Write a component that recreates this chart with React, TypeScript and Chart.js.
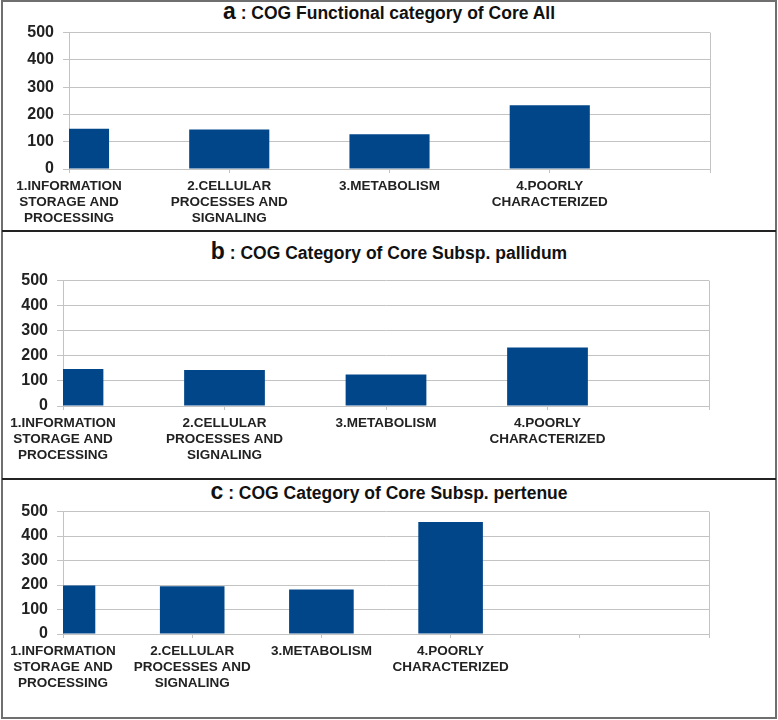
import React, { useEffect, useRef } from "react";
import { Chart, registerables } from "chart.js";

Chart.register(...registerables);

// ---------- data ----------
const categoriesAB: (string | string[])[] = [
  ["1.INFORMATION", "STORAGE AND", "PROCESSING"],
  ["2.CELLULAR", "PROCESSES AND", "SIGNALING"],
  "3.METABOLISM",
  ["4.POORLY", "CHARACTERIZED"],
  "",
];
const categoriesC: (string | string[])[] = [
  ["1.INFORMATION", "STORAGE AND", "PROCESSING"],
  ["2.CELLULAR", "PROCESSES AND", "SIGNALING"],
  "3.METABOLISM",
  ["4.POORLY", "CHARACTERIZED"],
  "",
  "",
];
const coreAll = [148, 145, 127, 234];
const corePallidum = [148, 144, 126, 233];
const corePertenue = [198, 195, 182, 458];
const yMin = 0;
const yMax = 500;
const yStep = 100;

const FONT = "'Liberation Sans', Arial, sans-serif";
const BAR = "#02468a";
const GRID = "#c3c3c3";
const TEXT = "#222222";

type PanelProps = {
  labels: (string | string[])[];
  values: number[];
  top: number; // canvas top
  plotLeft: number;
  plotRight: number;
  plotHeight: number;
};

const PAD_TOP = 10;
const XAXIS_H = 60;
const W = 778;

function BarPanel({ labels, values, top, plotLeft, plotRight, plotHeight }: PanelProps) {
  const ref = useRef<HTMLCanvasElement | null>(null);
  const height = PAD_TOP + plotHeight + XAXIS_H;
  useEffect(() => {
    if (!ref.current) return;
    const last = labels.length - 1;
    const chart = new Chart(ref.current, {
      type: "bar",
      data: {
        labels,
        datasets: [
          {
            data: values,
            backgroundColor: BAR,
            borderWidth: 0,
            categoryPercentage: 1,
            barPercentage: 0.5,
            clip: 0,
          } as any,
        ],
      },
      options: {
        animation: false,
        responsive: false,
        maintainAspectRatio: false,
        devicePixelRatio: 1,
        layout: { padding: { top: PAD_TOP, right: W - plotRight, left: 0, bottom: 0 } },
        plugins: { legend: { display: false }, tooltip: { enabled: false }, title: { display: false } },
        scales: {
          x: {
            type: "category",
            offset: false,
            grid: {
              offset: false,
              color: (ctx: any) => (ctx.index === last ? GRID : "rgba(0,0,0,0)"),
              tickColor: GRID,
              tickLength: 4,
              lineWidth: 1,
            },
            border: { color: GRID, width: 1 },
            ticks: {
              autoSkip: false,
              maxRotation: 0,
              minRotation: 0,
              padding: 6,
              color: TEXT,
              font: { family: FONT, size: 13.5, weight: "bold", lineHeight: 1.15 },
            },
            afterFit: (s: any) => {
              s.height = XAXIS_H;
            },
          },
          y: {
            min: yMin,
            max: yMax,
            grid: { color: GRID, tickColor: GRID, tickLength: 6, lineWidth: 1 },
            border: { color: GRID, width: 1 },
            ticks: {
              stepSize: yStep,
              padding: 9,
              color: TEXT,
              font: { family: FONT, size: 16, weight: "bold" },
            },
            afterFit: (s: any) => {
              s.width = plotLeft;
            },
          },
        },
      } as any,
    });
    return () => chart.destroy();
  }, []);
  return (
    <canvas
      ref={ref}
      width={W}
      height={height}
      style={{ position: "absolute", left: 0, top, width: W, height }}
    />
  );
}

function Title({ letter, text, top }: { letter: string; text: string; top: number }) {
  return (
    <div
      style={{
        position: "absolute",
        left: 0,
        top,
        width: W,
        textAlign: "center",
        fontFamily: FONT,
        fontWeight: "bold",
        fontSize: 17.5,
        lineHeight: "22px",
        color: "#111",
        whiteSpace: "nowrap",
      }}
    >
      <span style={{ fontSize: 23 }}>{letter}</span>
      {" : " + text}
    </div>
  );
}

export default function App() {
  return (
    <div style={{ position: "absolute", left: 0, top: 0, width: W, height: 720, background: "#fff" }}>
      <div
        style={{
          position: "absolute",
          left: 1,
          top: 0,
          width: 772,
          height: 715,
          border: "2px solid #6f6f6f",
        }}
      />
      <div style={{ position: "absolute", left: 2, top: 230, width: 774, height: 2, background: "#222" }} />
      <div style={{ position: "absolute", left: 2, top: 478, width: 774, height: 2, background: "#222" }} />

      <Title letter="a" text="COG Functional category of Core All" top={0} />
      <BarPanel labels={categoriesAB} values={coreAll} top={14} plotLeft={69} plotRight={710} plotHeight={145} />

      <Title letter="b" text="COG Category of Core Subsp. pallidum" top={240} />
      <BarPanel labels={categoriesAB} values={corePallidum} top={262} plotLeft={63} plotRight={709} plotHeight={134} />

      <Title letter="c" text="COG Category of Core Subsp. pertenue" top={480} />
      <BarPanel labels={categoriesC} values={corePertenue} top={493} plotLeft={63} plotRight={709} plotHeight={131} />
    </div>
  );
}
